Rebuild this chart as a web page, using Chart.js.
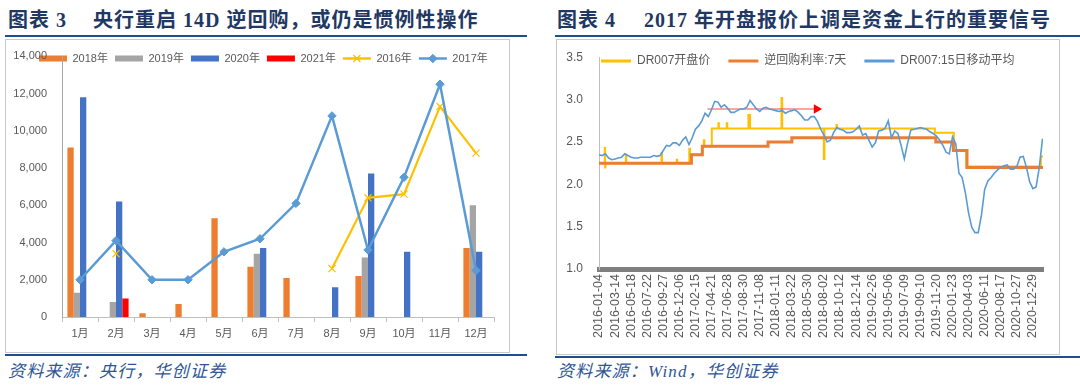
<!DOCTYPE html>
<html><head><meta charset="utf-8">
<script src="https://cdn.jsdelivr.net/npm/chart.js@4/dist/chart.umd.min.js"></script>
<style>
html,body{margin:0;padding:0;background:#fff;width:1080px;height:392px;overflow:hidden;position:relative;}
.title{position:absolute;top:7px;font-weight:bold;font-size:20px;font-family:"Liberation Serif","Noto Sans CJK SC",serif;color:#1f3864;white-space:pre;letter-spacing:1px;line-height:26px;}
.gap{display:inline-block;width:26px;}
.rule{position:absolute;height:2px;background:#1f4e8c;}
.box{position:absolute;border:1px solid #c8c8c8;box-sizing:border-box;}
canvas{position:absolute;}
.src{position:absolute;top:360px;font-style:italic;font-size:17px;font-family:"Liberation Serif","Noto Sans CJK SC",serif;color:#2f5597;white-space:pre;letter-spacing:1.2px;line-height:24px;}
</style></head>
<body>
<div class="title" style="left:8px">图表 3<span class="gap"></span>央行重启 14D 逆回购，或仍是惯例性操作</div>
<div class="rule" style="left:5px;top:35px;width:522px;"></div>
<div class="box" style="left:5px;top:39px;width:505px;height:314px;"></div>
<canvas id="c1" width="505" height="314" style="left:5px;top:39px;"></canvas>
<div class="rule" style="left:5px;top:354px;width:522px;"></div>
<div class="src" style="left:8px">资料来源：央行，华创证券</div>

<div class="title" style="left:557px">图表 4<span class="gap" style="width:28px"></span>2017 年开盘报价上调是资金上行的重要信号</div>
<div class="rule" style="left:555px;top:35px;width:525px;"></div>
<div class="box" style="left:556px;top:39px;width:504px;height:316px;"></div>
<canvas id="c2" width="504" height="316" style="left:556px;top:39px;"></canvas>
<div class="rule" style="left:555px;top:356px;width:525px;"></div>
<div class="src" style="left:557px">资料来源：Wind，华创证券</div>

<script>
// ---------- Chart 3 data ----------
const months = ['1月','2月','3月','4月','5月','6月','7月','8月','9月','10月','11月','12月'];
const y2018 = [9100, null, 200, 700, 5300, 2700, 2100, null, 2200, null, null, 3700];
const y2019 = [1300, 800, null, null, null, 3400, null, null, 3200, null, null, 6000];
const y2020 = [11800, 6200, null, null, null, 3700, null, 1600, 7700, 3500, null, 3500];
const y2021 = [null, 1000, null, null, null, null, null, null, null, null, null, null];
const y2016 = [null, 3400, null, null, null, null, null, 2600, 6400, 6600, 11300, 8800];
const y2017 = [2000, 4100, 2000, 2000, 3500, 4200, 6100, 10800, 3600, 7500, 12500, 2500];
const yTicks3 = {min: 0, max: 14000, step: 2000};

// ---------- Chart 4 data ----------
// x unit = one tick-label period (~46 trading days); 0 = 2016-01-04
const dateLabels = ['2016-01-04','2016-03-14','2016-05-18','2016-07-22','2016-09-27','2016-12-06',
  '2017-02-15','2017-04-21','2017-06-28','2017-08-30','2017-11-08','2018-01-11','2018-03-22',
  '2018-05-30','2018-08-02','2018-10-12','2018-12-14','2019-02-26','2019-05-06','2019-07-09',
  '2019-09-10','2019-11-20','2020-01-23','2020-04-03','2020-06-11','2020-08-17','2020-10-27','2020-12-29'];
const dataEnd = 27.63;
// 逆回购利率:7天 (change points)
const repoAt   = [0, 5.75, 6.43, 10.52, 12.0, 20.96, 22.05, 22.9, 27.63];
const repoRate = [2.25, 2.35, 2.45, 2.50, 2.55, 2.50, 2.40, 2.20, 2.20];
// DR007开盘价 (change points)
const openAt   = [0, 0.36, 0.38, 0.40, 1.67, 1.70, 3.89, 3.92, 4.84, 4.87, 5.62, 5.66, 5.75, 6.43, 6.52, 6.56, 7.02,
  7.43, 7.46, 7.95, 7.98, 9.30, 9.40, 11.36, 11.40, 13.99, 14.03, 14.78, 14.81, 20.90, 22.08, 22.86, 27.50, 27.63];
const openRate = [2.25, 2.43, 2.20, 2.25, 2.35, 2.25, 2.37, 2.25, 2.29, 2.25, 2.42, 2.25, 2.35, 2.45, 2.52, 2.45, 2.66,
  2.72, 2.66, 2.72, 2.66, 2.82, 2.66, 3.02, 2.66, 2.30, 2.66, 2.70, 2.66, 2.61, 2.40, 2.21, 2.33, 2.33];
// DR007:15日移动平均, sampled 5 times per label period
const maPerPeriod = 5;
const dr007Ma15 = [
  2.35,2.34,2.36,2.31,2.29,2.30,2.31,2.32,2.36,2.34,
  2.32,2.31,2.31,2.32,2.32,2.32,2.32,2.34,2.33,2.34,
  2.40,2.46,2.45,2.49,2.49,2.46,2.52,2.56,2.47,2.55,
  2.65,2.69,2.75,2.84,2.80,2.88,2.98,2.97,2.91,2.94,
  2.90,2.85,2.85,2.87,2.89,2.89,2.91,2.99,2.94,2.89,
  2.86,2.90,2.91,2.89,2.88,2.87,2.86,2.87,2.84,2.86,
  2.87,2.88,2.85,2.81,2.76,2.76,2.80,2.80,2.74,2.65,
  2.58,2.50,2.52,2.61,2.67,2.65,2.64,2.61,2.61,2.62,
  2.65,2.69,2.58,2.60,2.52,2.44,2.49,2.63,2.64,2.66,
  2.75,2.55,2.63,2.60,2.46,2.30,2.48,2.64,2.65,2.66,
  2.67,2.66,2.65,2.62,2.60,2.57,2.52,2.46,2.38,2.36,
  2.56,2.48,2.13,2.08,1.90,1.66,1.49,1.43,1.43,1.64,
  1.94,2.04,2.08,2.13,2.17,2.20,2.22,2.23,2.18,2.18,
  2.21,2.32,2.33,2.20,2.03,1.95,1.97,2.20,2.54];
// red arrow annotation
const arrowFrom = 6.75, arrowTo = 13.54, arrowLevel = 2.89;
const yTicks4 = {min: 1.0, max: 3.5, step: 0.5};

// ---------- common ----------
const FONT = 'Arial, "Liberation Sans", "Noto Sans CJK SC", sans-serif';
Chart.defaults.font.family = FONT;
Chart.defaults.color = '#595959';
Chart.defaults.animation = false;

const legendPlace = {
  id: 'legendPlace',
  afterLayout(chart, args, opts) {
    const lg = chart.legend; if (!lg) return;
    const pad = lg.options.labels.padding;
    lg.left = opts.x - pad; lg.right = lg.left + chart.width; lg.width = chart.width;
    lg.top = opts.y - pad; lg.bottom = lg.top + 60; lg.height = 60;
  },
  afterDraw(chart, args, opts) {
    const lg = chart.legend; if (!lg || !lg.legendItems) return;
    const ctx = chart.ctx, lo = lg.options.labels;
    lg.legendItems.forEach((it, i) => {
      const ds = chart.data.datasets[it.datasetIndex];
      const hb = lg.legendHitBoxes[i];
      if (!ds.legendMarker || !hb) return;
      ctx.save();
      ctx.fillStyle = ds.pointBackgroundColor; ctx.strokeStyle = ds.pointBorderColor;
      ctx.lineWidth = ds.pointBorderWidth || 1;
      Chart.helpers.drawPoint(ctx, {pointStyle: ds.pointStyle, radius: ds.pointRadius,
        borderWidth: ds.pointBorderWidth || 1, rotation: 0}, hb.left + lo.pointStyleWidth / 2, hb.top + lo.font.size / 2);
      ctx.restore();
    });
  }
};

function legendLabels(lineWidth) {
  return function (chart) {
    const items = Chart.defaults.plugins.legend.labels.generateLabels(chart);
    items.forEach(it => {
      const ds = chart.data.datasets[it.datasetIndex];
      if (ds.type === 'line') {
        it.pointStyle = 'line'; it.strokeStyle = ds.borderColor; it.lineWidth = lineWidth || ds.borderWidth;
      } else {
        it.pointStyle = 'rect'; it.fillStyle = ds.backgroundColor; it.lineWidth = 0;
      }
    });
    return items;
  };
}

// ---------- Chart 3 ----------
new Chart(document.getElementById('c1'), {
  type: 'bar',
  data: {
    labels: months,
    datasets: [
      {type: 'bar', label: '2018年', data: y2018, backgroundColor: '#ed7d31', order: 2},
      {type: 'bar', label: '2019年', data: y2019, backgroundColor: '#a5a5a5', order: 2},
      {type: 'bar', label: '2020年', data: y2020, backgroundColor: '#4472c4', order: 2},
      {type: 'bar', label: '2021年', data: y2021, backgroundColor: '#ff0000', order: 2},
      {type: 'line', label: '2016年', data: y2016, borderColor: '#ffc000', backgroundColor: '#ffc000', borderWidth: 2.2,
        pointStyle: 'crossRot', pointRadius: 5, pointBorderColor: '#ffc000', pointBackgroundColor: '#ffc000',
        pointBorderWidth: 1.2, tension: 0, order: 1, legendMarker: true},
      {type: 'line', label: '2017年', data: y2017, borderColor: '#5b9bd5', backgroundColor: '#5b9bd5', borderWidth: 2.5,
        pointStyle: 'rectRot', pointRadius: 4.2, pointBorderColor: '#5b9bd5', pointBackgroundColor: '#5b9bd5',
        pointBorderWidth: 1, tension: 0, order: 0, legendMarker: true}
    ]
  },
  options: {
    responsive: false,
    layout: {padding: {top: 16.3, right: 16, left: 0, bottom: 0}},
    datasets: {bar: {categoryPercentage: 0.7, barPercentage: 1.0, borderWidth: 0}},
    plugins: {
      tooltip: {enabled: false},
      legend: {
        position: 'top', align: 'start', maxHeight: 1,
        labels: {usePointStyle: true, pointStyleWidth: 28, boxHeight: 6, padding: 7,
          font: {size: 11, family: FONT}, color: '#595959',
          generateLabels: legendLabels(2.5), sort: (a, b) => a.datasetIndex - b.datasetIndex}
      },
      legendPlace: {x: 34, y: 14}
    },
    scales: {
      x: {
        offset: true,
        grid: {offset: true, drawOnChartArea: false, drawTicks: true, tickLength: 5, color: '#bfbfbf'},
        border: {display: true, color: '#bfbfbf', width: 1},
        ticks: {font: {size: 11}, color: '#595959', padding: 5, maxRotation: 0, autoSkip: false},
        afterFit(s) { s.height = 36; }
      },
      y: {
        min: yTicks3.min, max: yTicks3.max,
        grid: {display: false, drawTicks: true, tickLength: 14},
        border: {display: true, color: '#a6a6a6', width: 1},
        ticks: {stepSize: yTicks3.step, font: {size: 11}, color: '#595959', padding: 1},
        afterFit(s) { s.width = 57; }
      }
    }
  },
  plugins: [legendPlace]
});

// ---------- Chart 4 ----------
const toPts = (xs, ys) => xs.map((x, i) => ({x: x, y: ys[i]}));
new Chart(document.getElementById('c2'), {
  type: 'line',
  data: {
    datasets: [
      {type: 'line', label: 'DR007开盘价', data: toPts(openAt, openRate), borderColor: '#ffc000', backgroundColor: '#ffc000',
        borderWidth: 2, stepped: true, pointRadius: 0, order: 3},
      {type: 'line', label: '逆回购利率:7天', data: toPts(repoAt, repoRate), borderColor: '#ed7d31', backgroundColor: '#ed7d31',
        borderWidth: 3, stepped: true, pointRadius: 0, order: 2},
      {type: 'line', label: 'DR007:15日移动平均', data: dr007Ma15.map((v, i) => ({x: i / maPerPeriod, y: v})),
        borderColor: '#5b9bd5', backgroundColor: '#5b9bd5', borderWidth: 1.6, pointRadius: 0, tension: 0, order: 0},
      {type: 'line', label: '', data: toPts([arrowFrom, arrowTo], [arrowLevel, arrowLevel]),
        borderColor: 'rgba(255,70,70,0.5)', borderWidth: 2, pointRadius: [0, 5.5], pointStyle: 'triangle',
        pointRotation: 90, pointBackgroundColor: '#ff0000', pointBorderColor: '#ff0000', pointBorderWidth: 0, order: 1}
    ]
  },
  options: {
    responsive: false,
    layout: {padding: {top: 17.3, right: 17, left: 0, bottom: 0}},
    plugins: {
      tooltip: {enabled: false},
      legend: {
        position: 'top', align: 'start', maxHeight: 1,
        labels: {usePointStyle: true, pointStyleWidth: 30, boxHeight: 6, padding: 18,
          font: {size: 12, family: FONT}, color: '#595959',
          generateLabels: legendLabels(3), filter: it => !!it.text,
          sort: (a, b) => a.datasetIndex - b.datasetIndex}
      },
      legendPlace: {x: 45, y: 16}
    },
    scales: {
      x: {
        type: 'linear', min: 0, max: dataEnd,
        grid: {display: false, drawTicks: false},
        border: {display: true, color: '#7f7f7f', width: 5},
        ticks: {stepSize: 1, maxTicksLimit: 40, autoSkip: false, includeBounds: false, minRotation: 90, maxRotation: 90,
          padding: 5, font: {size: 12.5}, color: '#595959',
          callback: v => (Number.isInteger(v) && dateLabels[v]) ? dateLabels[v] : ''},
        afterFit(s) { s.height = 86; }
      },
      y: {
        min: yTicks4.min, max: yTicks4.max,
        grid: {display: false, drawTicks: true, tickLength: 15},
        border: {display: true, color: '#bfbfbf', width: 1},
        ticks: {stepSize: yTicks4.step, font: {size: 12}, color: '#595959', padding: 1, callback: v => v.toFixed(1)},
        afterFit(s) { s.width = 43; }
      }
    }
  },
  plugins: [legendPlace]
});
</script>
</body></html>
